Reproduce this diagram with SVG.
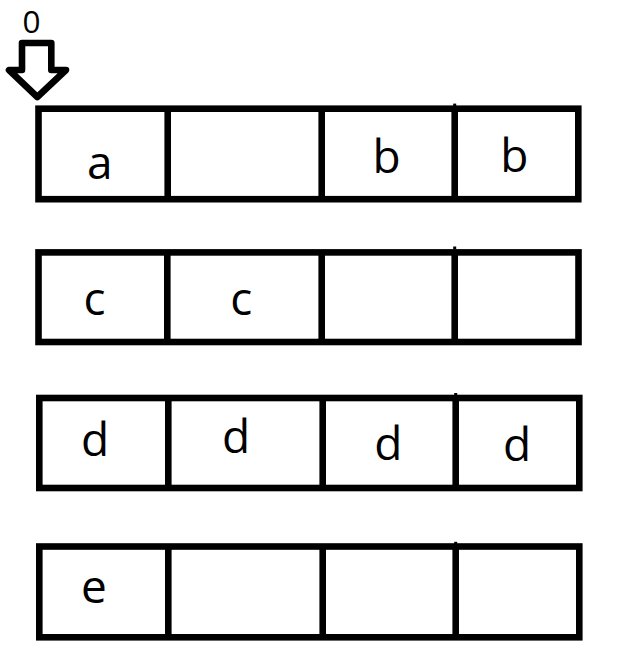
<svg xmlns="http://www.w3.org/2000/svg" width="618" height="664" viewBox="0 0 618 664">
<style>
.box{fill:none;stroke:#000;stroke-width:6.6;stroke-linejoin:miter}
.div{stroke:#000;stroke-width:6.6}
.tick{fill:#000}
.lbl{font-family:"Open Sans","Liberation Sans",sans-serif;font-size:46px;fill:#000;text-anchor:middle}
.zero{font-family:"Open Sans","Liberation Sans",sans-serif;font-size:31.5px;fill:#000;text-anchor:middle}
.arrow{fill:#fff;stroke:#000;stroke-width:6.6;stroke-linejoin:round}
</style>
<rect width="618" height="664" fill="#fff"/>
<g id="connectors">
  <g id="pointer">
    <path class="arrow" d="M22,43 L51.3,43 L51.3,70 L66,70 L37.3,97 L9,70 L22,70 Z"/>
    <text class="zero" x="31.5" y="32.5">0</text>
  </g>
</g>
<g id="row1">
  <rect class="box" x="38.5" y="108.7" width="539.8" height="90.5"/>
  <line class="div" x1="167.7" y1="108.7" x2="167.7" y2="199.2"/>
  <line class="div" x1="321.7" y1="108.7" x2="321.7" y2="199.2"/>
  <line class="div" x1="454.7" y1="108.7" x2="454.7" y2="199.2"/>
  <rect class="tick" x="453.2" y="103.6" width="3" height="3"/>
  <text class="lbl" x="99.7" y="179">a</text>
  <text class="lbl" x="386.7" y="173">b</text>
  <text class="lbl" x="514.3" y="172">b</text>
</g>
<g id="row2">
  <rect class="box" x="38.5" y="252.4" width="540" height="89.6"/>
  <line class="div" x1="167.3" y1="252.4" x2="167.3" y2="342"/>
  <line class="div" x1="321.7" y1="252.4" x2="321.7" y2="342"/>
  <line class="div" x1="454.7" y1="252.4" x2="454.7" y2="342"/>
  <rect class="tick" x="453.2" y="246.5" width="3" height="3"/>
  <text class="lbl" x="94.5" y="314.5">c</text>
  <text class="lbl" x="241.2" y="314.5">c</text>
</g>
<g id="row3">
  <rect class="box" x="39.3" y="398" width="540" height="90"/>
  <line class="div" x1="168.3" y1="398" x2="168.3" y2="488"/>
  <line class="div" x1="322.7" y1="398" x2="322.7" y2="488"/>
  <line class="div" x1="455.7" y1="398" x2="455.7" y2="488"/>
  <rect class="tick" x="454.2" y="393" width="3" height="3"/>
  <text class="lbl" x="95" y="455.5">d</text>
  <text class="lbl" x="236.2" y="453">d</text>
  <text class="lbl" x="388.3" y="460.3">d</text>
  <text class="lbl" x="517" y="460.7">d</text>
</g>
<g id="row4">
  <rect class="box" x="39.3" y="546.5" width="540" height="90.8"/>
  <line class="div" x1="168.3" y1="546.5" x2="168.3" y2="637.3"/>
  <line class="div" x1="322.7" y1="546.5" x2="322.7" y2="637.3"/>
  <line class="div" x1="455.7" y1="546.5" x2="455.7" y2="637.3"/>
  <rect class="tick" x="454.2" y="541.8" width="3" height="3"/>
  <text class="lbl" x="94" y="602.5">e</text>
</g>
</svg>
